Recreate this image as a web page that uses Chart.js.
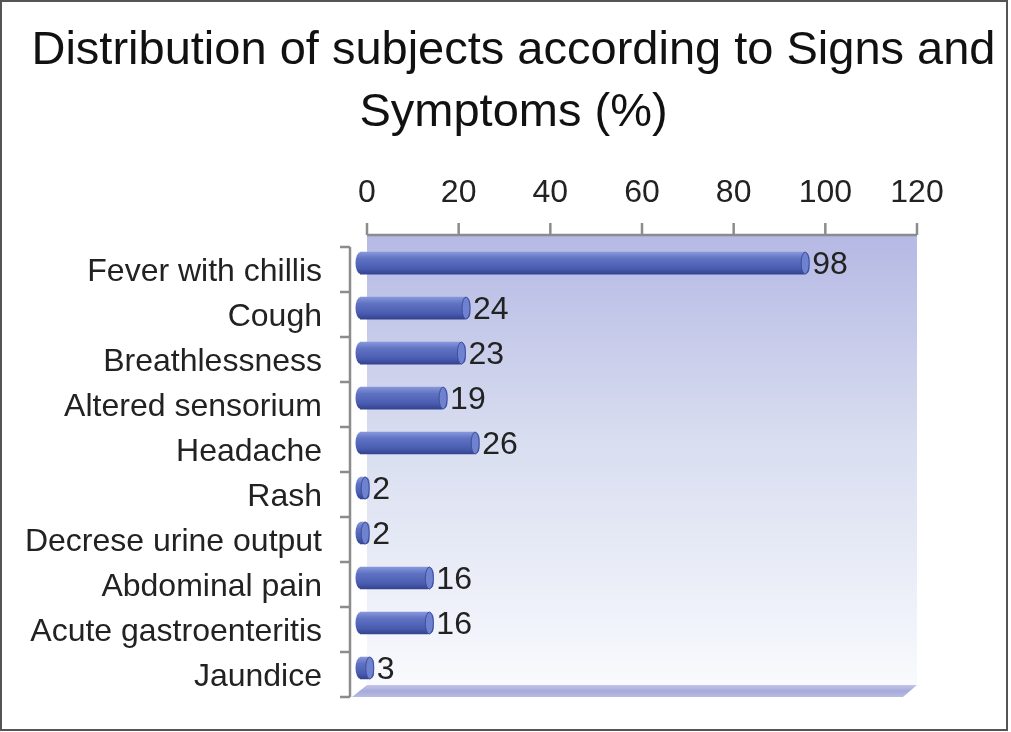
<!DOCTYPE html>
<html>
<head>
<meta charset="utf-8">
<title>Signs and Symptoms</title>
<script src="https://cdn.jsdelivr.net/npm/chart.js@4.4.1/dist/chart.umd.min.js"></script>
<style>
  body { margin: 0; background: #fff; }
  canvas { display: block; }
</style>
</head>
<body>
<canvas id="grafico" width="1011" height="732"></canvas>
<script>
// dados
const sintomas = ['Fever with chillis', 'Cough', 'Breathlessness', 'Altered sensorium', 'Headache',
                  'Rash', 'Decrese urine output', 'Abdominal pain', 'Acute gastroenteritis', 'Jaundice'];
const percentuais = [98, 24, 23, 19, 26, 2, 2, 16, 16, 3];
const eixoX = { min: 0, max: 120, passo: 20 };
const titulo = ['Distribution of subjects according to Signs and', 'Symptoms (%)'];

const fonte = 'Liberation Sans, Arial, Helvetica, sans-serif';
const dx = 7; // deslocamento da parede do fundo

// fundo 3D: parede, piso, eixos e moldura
const fundo3d = {
    id: 'fundo3d',
    beforeDraw(chart) {
        const ctx = chart.ctx;
        ctx.save();
        ctx.fillStyle = '#fff';
        ctx.fillRect(0, 0, chart.width, chart.height);
        ctx.strokeStyle = '#555';
        ctx.lineWidth = 2;
        ctx.strokeRect(1, 1, 1006, 729);
        ctx.restore();
    },
    beforeDatasetsDraw(chart) {
        const ctx = chart.ctx;
        const a = chart.chartArea;
        const x = chart.scales.x;
        const y = chart.scales.y;
        const topo = a.top - 5.5, fundo = a.bottom - 5.5;
        ctx.save();

        // parede do fundo
        const g = ctx.createLinearGradient(0, topo, 0, fundo);
        g.addColorStop(0, '#b5b9e4');
        g.addColorStop(0.45, '#d8ddf0');
        g.addColorStop(1, '#f8fafd');
        ctx.fillStyle = g;
        ctx.fillRect(a.left + dx, topo, a.right - a.left, a.bottom - a.top);

        // piso
        const gp = ctx.createLinearGradient(0, fundo, 0, a.bottom + 6.5);
        gp.addColorStop(0, '#c4c7e8');
        gp.addColorStop(0.5, '#a5aad9');
        gp.addColorStop(1, '#b8bce2');
        ctx.fillStyle = gp;
        ctx.beginPath();
        ctx.moveTo(a.left + dx, fundo);
        ctx.lineTo(a.right + dx, fundo);
        ctx.lineTo(a.right - 7, a.bottom + 6.5);
        ctx.lineTo(a.left - 8, a.bottom + 6.5);
        ctx.closePath();
        ctx.fill();

        ctx.strokeStyle = '#8c8c8c';
        ctx.lineWidth = 2.5;

        // eixo de cima
        ctx.beginPath();
        ctx.moveTo(a.left + dx, topo);
        ctx.lineTo(a.right + dx, topo);
        x.ticks.forEach(t => {
            const px = x.getPixelForValue(t.value) + dx;
            ctx.moveTo(px, topo);
            ctx.lineTo(px, topo - 12);
        });
        ctx.stroke();

        // eixo da esquerda
        const meio = (y.getPixelForValue(1) - y.getPixelForValue(0)) / 2;
        ctx.beginPath();
        ctx.moveTo(a.left - 10, a.top + 6.5);
        ctx.lineTo(a.left - 10, a.bottom + 6.5);
        for (let i = 0; i <= sintomas.length; i++) {
            const py = y.getPixelForValue(i) - meio + 6.5;
            ctx.moveTo(a.left - 10, py);
            ctx.lineTo(a.left - 20, py);
        }
        ctx.stroke();
        ctx.restore();
    },
    afterDatasetsDraw(chart) {
        const ctx = chart.ctx;
        const barras = chart.getDatasetMeta(0).data;
        ctx.save();
        barras.forEach((b, i) => {
            const h = b.height / 2;
            // ponta esquerda arredondada, com o mesmo degradê da barra
            ctx.beginPath();
            ctx.ellipse(b.base + 0.5, b.y, 5, h, 0, Math.PI / 2, Math.PI * 1.5);
            ctx.closePath();
            ctx.fillStyle = b.options.backgroundColor;
            ctx.fill();

            // tampa do cilindro
            const rx = Math.min(4, (b.x - b.base) / 2);
            ctx.beginPath();
            ctx.ellipse(b.x - rx, b.y, rx, h, 0, 0, Math.PI * 2);
            ctx.fillStyle = '#6f82cf';
            ctx.fill();
            ctx.strokeStyle = '#3f4e9f';
            ctx.lineWidth = 1;
            ctx.stroke();

            // valor
            ctx.fillStyle = '#222';
            ctx.font = '32px ' + fonte;
            ctx.textAlign = 'left';
            ctx.textBaseline = 'middle';
            ctx.fillText(String(percentuais[i]), b.x + 3, b.y + 2);
        });
        ctx.restore();
    }
};

const ctx = document.getElementById('grafico').getContext('2d');
const grafico = new Chart(ctx, {
    type: 'bar',
    data: {
        labels: sintomas,
        datasets: [{
            label: 'Signs and Symptoms (%)',
            data: percentuais,
            barThickness: 22,
            borderRadius: { topLeft: 0, bottomLeft: 0, topRight: 6, bottomRight: 6 },
            borderSkipped: false,
            backgroundColor: function(context) {
                const chart = context.chart;
                const y = chart.scales.y;
                if (!chart.chartArea || !y) return '#5466b8';
                const c = y.getPixelForValue(context.dataIndex);
                const g = chart.ctx.createLinearGradient(0, c - 11, 0, c + 11);
                g.addColorStop(0, '#8797dc');
                g.addColorStop(0.3, '#5f72c2');
                g.addColorStop(0.75, '#4a5cb0');
                g.addColorStop(1, '#34438f');
                return g;
            }
        }]
    },
    options: {
        indexAxis: 'y',
        responsive: false,
        animation: false,
        devicePixelRatio: 1,
        layout: { padding: { left: 16, right: 0, top: 0, bottom: 41.5 } },
        plugins: {
            legend: { display: false },
            tooltip: { enabled: false },
            title: {
                display: true,
                text: titulo,
                color: '#111',
                font: { family: fonte, size: 47, weight: 'normal', lineHeight: 1.32 },
                padding: { top: 20, bottom: 0 }
            }
        },
        scales: {
            x: {
                position: 'top',
                min: eixoX.min,
                max: eixoX.max,
                grid: { display: false, drawTicks: false },
                border: { display: false },
                ticks: {
                    stepSize: eixoX.passo,
                    color: '#222',
                    font: { family: fonte, size: 32 },
                    padding: 28,
                    labelOffset: dx
                },
                afterFit: s => { s.height = 96.5; }
            },
            y: {
                grid: { display: false, drawTicks: false },
                border: { display: false },
                ticks: {
                    color: '#222',
                    font: { family: fonte, size: 32 },
                    padding: 38,
                    labelOffset: 9
                },
                afterFit: s => { s.width = 344; s.paddingTop = 0; s.paddingBottom = 0; }
            },
            y2: {
                type: 'category',
                position: 'right',
                grid: { display: false, drawTicks: false },
                border: { display: false },
                ticks: { display: false },
                afterFit: s => { s.width = 101; s.paddingTop = 0; s.paddingBottom = 0; }
            }
        }
    },
    plugins: [fundo3d]
});
</script>
</body>
</html>
